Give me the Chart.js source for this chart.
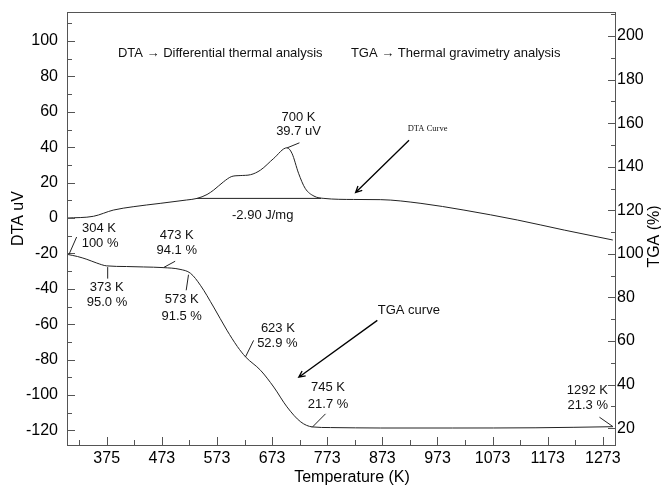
<!DOCTYPE html>
<html>
<head>
<meta charset="utf-8">
<title>DTA / TGA</title>
<script src="https://cdn.jsdelivr.net/npm/chart.js@4.4.0/dist/chart.umd.min.js"></script>
<style>
    html, body { margin: 0; padding: 0; background: #fff; }
    #wrap { width: 661px; height: 486px; position: relative; }
</style>
</head>
<body>
<div id="wrap"><canvas id="dtaTga"></canvas></div>
<script>
// Curvas (temperatura em K)
const dtaTemps  = [301, 349, 385, 421, 470, 518, 537, 555, 567, 585, 600, 615, 634, 652, 676, 700, 709, 721, 733, 749, 767, 821, 870, 943, 1021, 1118, 1203, 1291];
const dtaValues = [0, 1.0, 4.5, 6.4, 8.3, 10.2, 11.1, 13.3, 15.8, 20.5, 23.5, 24.0, 24.5, 27.1, 33.7, 39.7, 36.6, 25.3, 16.8, 12.4, 11.1, 10.5, 10.4, 8.3, 4.5, -1.1, -6.8, -12.4];

const tgaTemps  = [303, 320, 337, 355, 373, 409, 440, 476, 506, 525, 543, 567, 591, 610, 625, 652, 676, 700, 725, 746, 779, 870, 1000, 1150, 1291];
const tgaValues = [99.7, 98.8, 97.5, 95.8, 94.5, 94.2, 94.0, 93.7, 92.9, 91.1, 85.6, 75.6, 65.0, 57.5, 52.7, 46.6, 38.9, 29.8, 22.9, 20.6, 20.3, 20.1, 20.1, 20.2, 20.7];

// linha de base do pico (-2.90 J/mg)
const baseTemps  = [537, 762];
const baseValues = [11.1, 11.1];

// ticks dos eixos
const xTickValues = [323, 373, 423, 473, 523, 573, 623, 673, 723, 773, 823, 873, 923, 973, 1023, 1073, 1123, 1173, 1223, 1273];
const xTickLabels = ['', '375', '', '473', '', '573', '', '673', '', '773', '', '873', '', '973', '', '1073', '', '1173', '', '1273'];
const dtaTickValues = [-120, -110, -100, -90, -80, -70, -60, -50, -40, -30, -20, -10, 0, 10, 20, 30, 40, 50, 60, 70, 80, 90, 100, 110];
const tgaTickValues = [20, 30, 40, 50, 60, 70, 80, 90, 100, 110, 120, 130, 140, 150, 160, 170, 180, 190, 200, 210];

const FONT = 'Liberation Sans, Arial, Helvetica, sans-serif';
const LINE = '#222';

// textos e linhas de chamada, em coordenadas (K, DTA uV)
const notes = [
    { text: 'DTA \u2192 Differential thermal analysis', x: 579, y: 93.2 },
    { text: 'TGA \u2192 Thermal gravimetry analysis', x: 1006, y: 93.2 },
    { text: '700 K', x: 721, y: 57.0 },
    { text: '39.7 uV', x: 721, y: 49.1 },
    { text: '-2.90 J/mg', x: 656, y: 1.6 },
    { text: '304 K', x: 359, y: -5.8 },
    { text: '100 %', x: 361, y: -14.3 },
    { text: '473 K', x: 500, y: -9.7 },
    { text: '94.1 %', x: 500, y: -18.2 },
    { text: '373 K', x: 373, y: -39.1 },
    { text: '95.0 %', x: 373.5, y: -47.6 },
    { text: '573 K', x: 509, y: -45.9 },
    { text: '91.5 %', x: 509, y: -55.5 },
    { text: '623 K', x: 683.5, y: -62.5 },
    { text: '52.9 %', x: 682.6, y: -71.0 },
    { text: 'TGA curve', x: 921, y: -52.1 },
    { text: '745 K', x: 774.5, y: -95.9 },
    { text: '21.7 %', x: 774.5, y: -105.3 },
    { text: '1292 K', x: 1282.3, y: -97.4, align: 'right' },
    { text: '21.3 %', x: 1282.3, y: -105.9, align: 'right' },
    { text: 'DTA Curve', x: 955, y: 50.2, serif: true }
];

const leaders = [
    { x1: 700.3, y1: 39.65, x2: 722.6, y2: 42.5 },
    { x1: 304.5, y1: -20.6, x2: 318.5, y2: -10.7 },
    { x1: 475.9, y1: -28.0, x2: 497.2, y2: -24.4 },
    { x1: 374.8, y1: -27.7, x2: 374.8, y2: -34.2 },
    { x1: 521.4, y1: -32.0, x2: 517.2, y2: -40.8 },
    { x1: 624.5, y1: -78.6, x2: 639.5, y2: -69.1 },
    { x1: 745.7, y1: -118.2, x2: 769.9, y2: -110.6 },
    { x1: 1291.2, y1: -117.8, x2: 1266.8, y2: -112.5 }
];

const arrows = [
    { x1: 921.4, y1: 44.0, x2: 824.5, y2: 14.4 },
    { x1: 863.9, y1: -57.8, x2: 721.4, y2: -89.9 }
];

function toPoints(xs, ys) {
    return xs.map((x, i) => ({ x: x, y: ys[i] }));
}

// moldura, ticks para dentro, anotações e títulos dos eixos
const frameAndNotes = {
    id: 'frameAndNotes',
    afterDatasetsDraw(chart) {
        const ctx = chart.ctx;
        const a = chart.chartArea;
        const sx = chart.scales.x;
        const sy = chart.scales.y;
        const sy2 = chart.scales.y2;

        ctx.save();
        ctx.strokeStyle = '#555';
        ctx.lineWidth = 1;
        ctx.strokeRect(a.left + 0.5, a.top + 0.5, a.right - a.left, a.bottom - a.top);

        ctx.beginPath();
        xTickValues.forEach((v, i) => {
            const px = Math.round(sx.getPixelForValue(v)) + 0.5;
            const len = xTickLabels[i] ? 8 : 5;
            ctx.moveTo(px, a.bottom);
            ctx.lineTo(px, a.bottom - len);
        });
        dtaTickValues.forEach(v => {
            const py = Math.round(sy.getPixelForValue(v)) + 0.5;
            const len = v % 20 === 0 ? 8 : 5;
            ctx.moveTo(a.left, py);
            ctx.lineTo(a.left + len, py);
        });
        tgaTickValues.forEach(v => {
            const py = Math.round(sy2.getPixelForValue(v)) + 0.5;
            const len = v % 20 === 0 ? 8 : 5;
            ctx.moveTo(a.right + 1, py);
            ctx.lineTo(a.right + 1 - len, py);
        });
        ctx.stroke();

        // linhas de chamada
        ctx.strokeStyle = LINE;
        ctx.beginPath();
        leaders.forEach(l => {
            ctx.moveTo(sx.getPixelForValue(l.x1), sy.getPixelForValue(l.y1));
            ctx.lineTo(sx.getPixelForValue(l.x2), sy.getPixelForValue(l.y2));
        });
        ctx.stroke();

        // setas
        ctx.strokeStyle = '#000';
        ctx.lineWidth = 1.3;
        arrows.forEach(ar => {
            const x1 = sx.getPixelForValue(ar.x1), y1 = sy.getPixelForValue(ar.y1);
            const x2 = sx.getPixelForValue(ar.x2), y2 = sy.getPixelForValue(ar.y2);
            const ang = Math.atan2(y2 - y1, x2 - x1);
            ctx.beginPath();
            ctx.moveTo(x1, y1);
            ctx.lineTo(x2, y2);
            ctx.moveTo(x2 - 7 * Math.cos(ang - 0.45), y2 - 7 * Math.sin(ang - 0.45));
            ctx.lineTo(x2, y2);
            ctx.lineTo(x2 - 7 * Math.cos(ang + 0.45), y2 - 7 * Math.sin(ang + 0.45));
            ctx.stroke();
        });

        // textos
        ctx.fillStyle = '#111';
        ctx.textBaseline = 'middle';
        notes.forEach(n => {
            ctx.font = n.serif ? '8.5px Liberation Serif, Times New Roman, serif' : '13px ' + FONT;
            ctx.textAlign = n.align || 'center';
            ctx.fillText(n.text, sx.getPixelForValue(n.x), sy.getPixelForValue(n.y));
        });

        // títulos dos eixos
        ctx.fillStyle = '#000';
        ctx.font = '16px ' + FONT;
        ctx.textAlign = 'center';
        ctx.fillText('Temperature (K)', (a.left + a.right) / 2 + 11, chart.height - 8);

        ctx.save();
        ctx.translate(19, (a.top + a.bottom) / 2 - 10);
        ctx.rotate(-Math.PI / 2);
        ctx.fillText('DTA uV', 0, 0);
        ctx.restore();

        ctx.save();
        ctx.translate(chart.width - 6, (a.top + a.bottom) / 2 + 8);
        ctx.rotate(-Math.PI / 2);
        ctx.fillText('TGA (%)', 0, 0);
        ctx.restore();

        ctx.restore();
    }
};

const tickFont = { family: FONT, size: 16 };

function fixWidth(w) {
    return s => { s.width = w; s.paddingTop = 0; s.paddingBottom = 0; };
}

new Chart(document.getElementById('dtaTga'), {
    type: 'line',
    data: {
        datasets: [
            {
                label: 'DTA',
                data: toPoints(dtaTemps, dtaValues),
                yAxisID: 'y',
                borderColor: LINE,
                borderWidth: 1,
                pointRadius: 0,
                cubicInterpolationMode: 'monotone'
            },
            {
                label: 'Baseline',
                data: toPoints(baseTemps, baseValues),
                yAxisID: 'y',
                borderColor: LINE,
                borderWidth: 1,
                pointRadius: 0
            },
            {
                label: 'TGA',
                data: toPoints(tgaTemps, tgaValues),
                yAxisID: 'y2',
                borderColor: LINE,
                borderWidth: 1,
                pointRadius: 0,
                cubicInterpolationMode: 'monotone'
            }
        ]
    },
    options: {
        responsive: true,
        maintainAspectRatio: false,
        animation: false,
        layout: { padding: { top: 12, left: 0, right: 0, bottom: 0 } },
        plugins: {
            legend: { display: false },
            tooltip: { enabled: false }
        },
        scales: {
            x: {
                type: 'linear',
                min: 301,
                max: 1295,
                afterBuildTicks: s => { s.ticks = xTickValues.map(v => ({ value: v })); },
                afterFit: s => { s.height = 41; s.paddingLeft = 0; s.paddingRight = 0; },
                grid: { display: false, drawTicks: false },
                border: { display: false },
                ticks: {
                    autoSkip: false,
                    maxRotation: 0,
                    padding: 4,
                    color: '#000',
                    font: tickFont,
                    callback: function(value) {
                        const i = xTickValues.indexOf(value);
                        return i >= 0 ? xTickLabels[i] : '';
                    }
                }
            },
            y: {
                position: 'left',
                min: -128.2,
                max: 116.4,
                afterBuildTicks: s => { s.ticks = dtaTickValues.map(v => ({ value: v })); },
                afterFit: fixWidth(67),
                grid: { display: false, drawTicks: false },
                border: { display: false },
                ticks: {
                    autoSkip: false,
                    padding: 9,
                    color: '#000',
                    font: tickFont,
                    callback: v => (v % 20 === 0 ? String(v) : '')
                }
            },
            y2: {
                position: 'right',
                min: 12.3,
                max: 211,
                afterBuildTicks: s => { s.ticks = tgaTickValues.map(v => ({ value: v })); },
                afterFit: fixWidth(46),
                grid: { display: false, drawTicks: false },
                border: { display: false },
                ticks: {
                    autoSkip: false,
                    padding: 2,
                    color: '#000',
                    font: tickFont,
                    callback: v => (v % 20 === 0 ? String(v) : '')
                }
            }
        }
    },
    plugins: [frameAndNotes]
});
</script>
</body>
</html>
